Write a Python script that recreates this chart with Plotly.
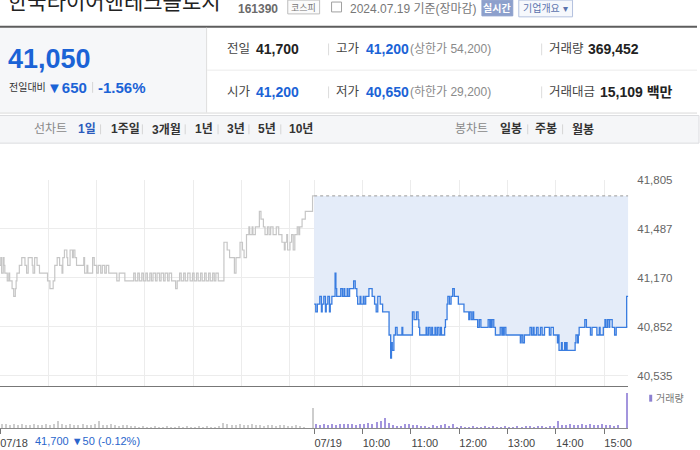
import plotly.graph_objects as go

W, H = 700, 450

# ---------------- data ----------------
# 07/18 (previous session) intraday price, minutes after 09:00
prev_min = [0, 1, 2, 4, 5, 6, 9, 11, 12, 15, 17, 19, 20, 21, 24, 27, 31, 33, 35, 40,
            41, 43, 46, 49, 59, 62, 66, 68, 71, 74, 77, 78, 80, 83, 84, 87, 90, 91, 93, 95,
            104, 105, 108, 109, 115, 117, 120, 122, 125, 127, 130, 132, 135, 145, 148, 155, 166, 168, 171, 173,
            176, 178, 181, 183, 186, 188, 190, 193, 195, 198, 200, 203, 205, 208, 210, 213, 218, 220, 223, 225,
            228, 230, 233, 236, 239, 241, 244, 246, 249, 251, 254, 256, 259, 261, 264, 266, 268, 271, 278, 282,
            285, 291, 293, 298, 301, 303, 306, 309, 310, 313, 314, 317, 322, 324, 327, 329, 332, 334, 336, 339,
            343, 346, 350, 353, 354, 356, 357, 360, 362, 364, 366, 369, 371, 372, 375, 379, 388, 390]
prev_price = [41250, 41300, 41200, 41300, 41250, 41200, 41150, 41200, 41150, 41100, 41050, 41100, 41150, 41200, 41250, 41300, 41250, 41200, 41300, 41250,
              41200, 41300, 41250, 41200, 41150, 41100, 41150, 41250, 41300, 41250, 41200, 41300, 41350, 41300, 41250, 41350, 41300, 41350, 41300, 41250,
              41300, 41200, 41250, 41200, 41300, 41250, 41200, 41250, 41200, 41250, 41200, 41250, 41200, 41150, 41200, 41150, 41200, 41150, 41200, 41150,
              41200, 41150, 41200, 41150, 41200, 41150, 41200, 41150, 41200, 41150, 41200, 41150, 41200, 41150, 41200, 41150, 41100, 41150, 41200, 41150,
              41200, 41150, 41200, 41150, 41200, 41150, 41200, 41150, 41200, 41150, 41200, 41150, 41200, 41150, 41200, 41150, 41200, 41150, 41400, 41350,
              41300, 41200, 41300, 41400, 41350, 41300, 41450, 41500, 41450, 41500, 41450, 41500, 41600, 41550, 41500, 41450, 41500, 41450, 41500, 41450,
              41500, 41450, 41400, 41350, 41400, 41450, 41350, 41400, 41450, 41350, 41450, 41500, 41450, 41500, 41550, 41600, 41700, 41700]

# 07/19 (today) intraday price, minutes after 09:00
today_min = [0, 2, 4, 7, 9, 10, 12, 14, 15, 17, 19, 20, 22, 26, 27, 28, 33, 35, 37, 38,
             41, 42, 44, 49, 51, 53, 54, 57, 58, 61, 62, 64, 68, 72, 75, 77, 79, 82, 85, 93,
             95, 96, 97, 99, 101, 103, 109, 110, 122, 124, 127, 129, 130, 131, 139, 140, 142, 144, 146, 147,
             150, 151, 153, 155, 157, 158, 162, 163, 165, 166, 168, 170, 172, 174, 179, 186, 192, 193, 195, 197,
             198, 203, 205, 207, 216, 218, 219, 220, 221, 223, 225, 231, 233, 234, 235, 236, 238, 256, 257, 259,
             261, 268, 270, 272, 273, 276, 278, 281, 283, 286, 292, 294, 297, 302, 303, 304, 307, 308, 311, 312,
             313, 314, 324, 325, 327, 328, 329, 336, 338, 343, 345, 351, 354, 355, 359, 361, 362, 364, 366, 367,
             370, 373, 375, 388, 390]
today_price = [41000, 40950, 41000, 41050, 40950, 41000, 41050, 40950, 41000, 41050, 40950, 41000, 41050, 41200, 41100, 41050, 41100, 41050, 41100, 41050,
               41100, 41050, 41100, 41150, 41100, 41050, 41000, 41050, 41000, 41050, 41000, 41050, 41100, 41050, 41000, 40950, 41050, 41000, 40950, 40800,
               40650, 40750, 40700, 40800, 40850, 40800, 40850, 40800, 40950, 40900, 40950, 40900, 40850, 40800, 40850, 40800, 40850, 40800, 40850, 40800,
               40850, 40800, 40850, 40800, 40850, 40800, 40850, 40900, 41000, 41050, 41000, 41050, 41100, 41050, 41000, 40950, 40900, 40950, 40900, 40950,
               40900, 40850, 40900, 40850, 40900, 40850, 40900, 40850, 40900, 40850, 40800, 40850, 40800, 40850, 40800, 40850, 40800, 40750, 40800, 40750,
               40800, 40850, 40800, 40850, 40800, 40850, 40800, 40850, 40800, 40850, 40800, 40850, 40800, 40750, 40800, 40700, 40750, 40700, 40750, 40700,
               40750, 40700, 40750, 40800, 40750, 40800, 40850, 40900, 40850, 40800, 40850, 40800, 40850, 40800, 40850, 40900, 40850, 40900, 40850, 40900,
               40850, 40800, 40850, 41050, 41050]

prev_close = 41700  # 07/18 close (reference line for 07/19)

# volume, 5-minute bins 09:00 ... 15:25 (shares)
vol_prev = [6000, 7500, 4500, 6000, 4500, 6000, 4500, 4500, 6000, 4500, 4500, 6000, 4500,
            7500, 12000, 6000,
            4500, 6000, 4500, 4500, 6000, 4500, 4500, 7500,
            12000,
            4500, 4500, 6000, 4500, 3000, 4500, 4500, 3000,
            3000, 1500, 3000, 1500, 1500, 3000, 1500, 1500, 3000, 1500, 1500, 3000, 1500, 3000, 1500, 1500, 3000, 1500, 3000, 1500, 1500, 3000,
            9000, 6000, 4500,
            4500, 6000, 4500, 4500, 6000, 4500, 4500, 3000, 4500, 4500, 3000, 4500, 4500, 3000, 3000, 4500, 3000,
            1500, 0, 0]
vol_prev_close = 31500
vol_today = [6000, 4500, 6000, 4500, 6000, 4500, 6000, 6000, 7500,
             6000, 4500, 7500, 6000, 9000, 7500, 10500,
             12000, 16500, 9000,
             4500, 3000, 3000,
             7500, 6000, 4500, 4500,
             3000, 3000, 1500, 4500, 3000, 4500, 6000, 3000, 6000,
             1500, 3000, 1500, 1500, 3000, 1500, 1500, 3000, 1500, 3000, 1500, 1500, 3000, 1500, 1500, 3000, 1500, 3000, 3000, 1500, 3000, 3000, 1500, 3000, 3000,
             12000,
             4500, 4500, 6000, 4500, 4500, 7500, 4500, 6000, 4500, 4500, 6000, 4500, 4500, 3000, 4500,
             0, 0]
vol_today_close = 54000

y_tick_vals = [40535, 40852.5, 41170, 41487.5, 41805]
y_tick_text = ["40,535", "40,852", "41,170", "41,487", "41,805"]
x_grid_vals = [0, 60, 120, 180, 240, 300, 360, 390, 450, 510, 570, 630, 690, 750]
x_tick_vals = [0, 390, 450, 510, 570, 630, 690, 750]
x_tick_text = ["07/18", "07/19", "10:00", "11:00", "12:00", "13:00", "14:00", "15:00"]

# ---------------- figure ----------------
FONT = "Liberation Sans, Arial, Noto Sans CJK KR, sans-serif"
BLUE = "#1b63d6"

today_x = [390 + m for m in today_min]
vp_x = [5 * i + 2.5 for i in range(len(vol_prev))] + [389]
vt_x = [390 + 5 * i + 2.5 for i in range(len(vol_today))] + [778.5]

fig = go.Figure()
fig.add_trace(go.Scatter(x=prev_min, y=prev_price, mode="lines", line=dict(color="#c6c6c6", width=1.2, shape="hv"),
                         hoverinfo="skip"))
fig.add_trace(go.Scatter(x=[390, 780], y=[prev_close, prev_close], mode="lines",
                         line=dict(color="#9a9a9a", width=1, dash="dot"), hoverinfo="skip"))
fig.add_trace(go.Scatter(x=today_x, y=today_price, mode="lines", line=dict(color="#3a7de0", width=1.3, shape="hv"),
                         fill="tonexty", fillcolor="#e4ecf9", hoverinfo="skip"))
fig.add_trace(go.Bar(x=vp_x, y=vol_prev + [vol_prev_close], width=1.4, marker=dict(color="#cdcdcd", line=dict(width=0)),
                     xaxis="x2", yaxis="y2", hoverinfo="skip"))
fig.add_trace(go.Bar(x=vt_x, y=vol_today + [vol_today_close], width=1.4, marker=dict(color="#a395dd", line=dict(width=0)),
                     xaxis="x2", yaxis="y2", hoverinfo="skip"))


def X(px):
    return px / W


def Y(py):
    return 1 - py / H


XD = [0, 631 / W]
fig.update_layout(
    width=W, height=H, margin=dict(l=0, r=0, t=0, b=0),
    paper_bgcolor="white", plot_bgcolor="white", showlegend=False, bargap=0,
    font=dict(family=FONT, size=12, color="#444"),
    xaxis=dict(domain=XD, range=[0, 780], tickvals=x_grid_vals, showticklabels=False, ticks="",
               showgrid=True, gridcolor="#ececec", gridwidth=1, zeroline=False,
               showline=True, linecolor="#777", linewidth=1, anchor="y", fixedrange=True),
    yaxis=dict(domain=[Y(385), Y(176)], range=[40471, 41805], side="right", anchor="x",
               tickvals=y_tick_vals, ticktext=y_tick_text, showgrid=True, gridcolor="#ececec",
               zeroline=False, showline=False, ticks="", ticklabelstandoff=8,
               tickfont=dict(size=11.5, color="#666", family=FONT)),
    xaxis2=dict(domain=XD, range=[0, 780], anchor="y2", matches="x", tickvals=x_tick_vals, ticktext=x_tick_text,
                ticks="outside", ticklen=5, tickcolor="#777", showgrid=False, zeroline=False,
                showline=True, linecolor="#8a8a8a", linewidth=1, ticklabelshift=14, ticklabeloverflow="allow",
                tickfont=dict(size=11, color="#444", family=FONT)),
    yaxis2=dict(domain=[Y(428), Y(386)], range=[0, 63000], anchor="x2", showgrid=False, zeroline=False,
                showticklabels=False, showline=False),
)

shapes = []
ann = []


def txt(x, y, s, size=12, color="#333", bold=False, anchor="left"):
    ann.append(dict(x=X(x), y=Y(y), xref="paper", yref="paper", text=(f"<b>{s}</b>" if bold else s),
                    showarrow=False, xanchor=anchor, yanchor="middle",
                    font=dict(size=size, color=color, family=FONT)))


def rect(x0, y0, x1, y1, fill, line=None, lw=1):
    shapes.append(dict(type="rect", xref="paper", yref="paper", x0=X(x0), x1=X(x1), y0=Y(y1), y1=Y(y0),
                       fillcolor=fill, line=dict(color=line or fill, width=lw if line else 0), layer="below"))


def hline(x0, x1, y, color, w=1, dash=None):
    shapes.append(dict(type="line", xref="paper", yref="paper", x0=X(x0), x1=X(x1), y0=Y(y), y1=Y(y),
                       line=dict(color=color, width=w, dash=dash)))


def vline(x, y0, y1, color, w=1):
    shapes.append(dict(type="line", xref="paper", yref="paper", x0=X(x), x1=X(x), y0=Y(y0), y1=Y(y1),
                       line=dict(color=color, width=w)))


# ---- header ----
txt(6, -5, "한국타이어앤테크놀로지", size=21, color="#222")
txt(237, 3, "161390", size=12, color="#6a6a6a", bold=True)
rect(289, -6, 321, 8, "#fbfbfb", "#bdbdbd")
txt(305, 2, "코스피", size=9, color="#777", anchor="center")
rect(333, -4, 343, 6, "#ffffff", "#a0a0a0")
txt(349, 3, "2024.07.19 기준(장마감)", size=12, color="#777")
rect(484, -6, 515, 10, "#8da0cc", "#8da0cc")
txt(499.5, 2, "실시간", size=10, color="#ffffff", bold=True, anchor="center")
rect(521, -6, 575, 11, "#f6f8fc", "#b3c1de")
txt(548, 2, "기업개요 ▾", size=10, color="#5b73ad", anchor="center")

hline(0, 700, 21, "#5d5d5d", w=2)

# ---- info box ----
rect(0, 22, 207, 108, "#f6f7f9")
vline(207.5, 22, 108, "#dedede")
hline(208, 700, 65, "#ebebeb")
hline(0, 700, 108.5, "#d9d9d9")

txt(6, 54, "41,050", size=27, color=BLUE, bold=True)
txt(7, 82.5, "전일대비", size=10, color="#333")
txt(45, 82.5, "▼<b>650</b>", size=15, color=BLUE)
vline(93, 77, 88, "#d6d6d6")
txt(96, 82.5, "-1.56%", size=15, color=BLUE, bold=True)

for yy, items in [(44, [("전일", "41,700", "#222", None), ("고가", "41,200", BLUE, "(상한가 54,200)"), ("거래량", "369,452", "#222", None)]),
                  (87.5, [("시가", "41,200", BLUE, None), ("저가", "40,650", BLUE, "(하한가 29,200)"), ("거래대금", "15,109 백만", "#222", None)])]:
    (l1, v1, c1, _), (l2, v2, c2, n2), (l3, v3, c3, _) = items
    txt(226, yy, l1, size=12.5, color="#444")
    txt(255, yy, v1, size=14, color=c1, bold=True)
    vline(330, yy - 6, yy + 6, "#dcdcdc")
    txt(335, yy, l2, size=12.5, color="#444")
    txt(366, yy, v2, size=14, color=c2, bold=True)
    txt(410, yy, n2, size=12, color="#8a8a8a")
    vline(544, yy - 6, yy + 6, "#dcdcdc")
    txt(549, yy, l3, size=12.5, color="#444")
    txt(589 if l3 == "거래량" else 601, yy, v3, size=14, color=c3, bold=True)

# ---- tab bar ----
rect(-2, 111, 702, 139, "#f5f6f8", "#dcdde0")
txt(32, 125, "선차트", size=12, color="#888")
tabs = [(76, "1일", "#2b5bbd"), (109, "1주일", "#333"), (151, "3개월", "#333"), (194, "1년", "#333"),
        (226, "3년", "#333"), (257, "5년", "#333"), (288, "10년", "#333")]
for x, s, c in tabs:
    txt(x, 125, s, size=12, color=c, bold=True)
for x in [101, 143, 186, 219, 250, 282, 530, 565]:
    vline(x, 120, 130, "#d5d5d5")
txt(455, 125, "봉차트", size=12, color="#888")
for x, s in [(500, "일봉"), (535, "주봉"), (572, "월봉")]:
    txt(x, 125, s, size=12, color="#333", bold=True)

# ---- chart extras ----
txt(33, 441, "41,700 ▼50 (-0.12%)", size=11, color="#2a66cc")
rect(652, 394, 655, 401, "#8c80d0")
txt(657, 397.5, "거래량", size=10, color="#777")

fig.update_layout(shapes=shapes, annotations=ann)
fig.write_html("out.html", config={"displayModeBar": False},
               post_script="document.body.style.margin='0';document.body.style.overflow='hidden';")
